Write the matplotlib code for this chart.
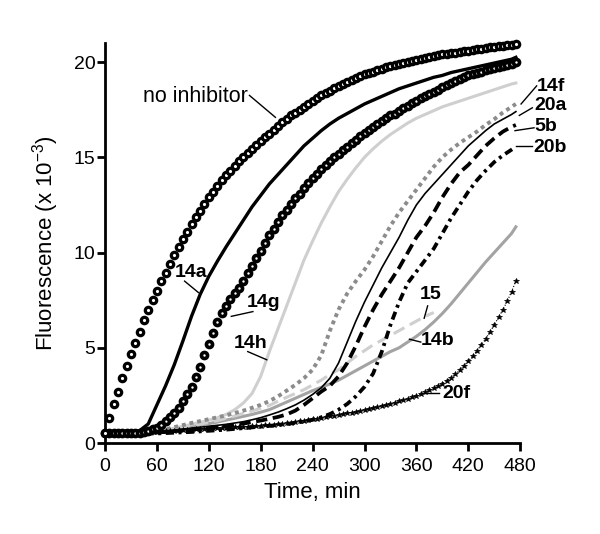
import numpy as np
import matplotlib.pyplot as plt

plt.rcParams['font.family'] = ['Liberation Sans', 'DejaVu Sans']
plt.rcParams['mathtext.fontset'] = 'custom'
plt.rcParams['mathtext.rm'] = 'Liberation Sans'
plt.rcParams['mathtext.it'] = 'Liberation Sans:italic'
plt.rcParams['mathtext.bf'] = 'Liberation Sans:bold'

# time grids (min)
t_dense = np.arange(0, 480, 5)          # marker series, 0..475
t_line = np.r_[np.arange(0, 480, 10), 475]  # line series

no_inhib = [0.5, 1.3, 2.05, 2.7, 3.4, 4.05, 4.65, 5.25, 5.85, 6.45,
            7.0, 7.5, 8.0, 8.5, 8.95, 9.4, 9.85, 10.3, 10.7, 11.1,
            11.5, 11.85, 12.2, 12.55, 12.9, 13.2, 13.5, 13.8, 14.05, 14.3,
            14.55, 14.8, 15.0, 15.25, 15.45, 15.65, 15.85, 16.05, 16.25, 16.45,
            16.65, 16.85, 17.0, 17.2, 17.35, 17.5, 17.65, 17.8, 17.95, 18.1,
            18.25, 18.4, 18.5, 18.65, 18.75, 18.85, 18.95, 19.05, 19.15, 19.25,
            19.35, 19.45, 19.5, 19.6, 19.65, 19.75, 19.8, 19.85, 19.9, 19.95,
            20.0, 20.05, 20.1, 20.15, 20.2, 20.25, 20.3, 20.35, 20.4, 20.45,
            20.5, 20.5, 20.55, 20.6, 20.6, 20.65, 20.7, 20.7, 20.75, 20.8,
            20.8, 20.85, 20.85, 20.9, 20.9, 20.95]

s14g = [0.5, 0.5, 0.5, 0.5, 0.5, 0.5, 0.5, 0.52, 0.55, 0.6,
        0.65, 0.72, 0.8, 0.95, 1.15, 1.35, 1.55, 1.85, 2.2, 2.55,
        2.95, 3.45, 4.0, 4.6, 5.2, 5.8, 6.35, 6.8, 7.2, 7.55,
        7.85, 8.15, 8.5, 8.9, 9.3, 9.7, 10.1, 10.5, 10.9, 11.25,
        11.6, 11.95, 12.25, 12.55, 12.85, 13.1, 13.4, 13.65, 13.9, 14.15,
        14.4, 14.6, 14.8, 15.0, 15.2, 15.4, 15.55, 15.75, 15.9, 16.1,
        16.3, 16.45, 16.6, 16.75, 16.9, 17.05, 17.2, 17.3, 17.45, 17.6,
        17.7, 17.85, 17.95, 18.1, 18.2, 18.35, 18.45, 18.55, 18.7, 18.8,
        18.9, 19.0, 19.1, 19.2, 19.3, 19.35, 19.45, 19.5, 19.6, 19.65,
        19.7, 19.75, 19.8, 19.85, 19.9, 20.0]

s20f = [0.5, 0.5, 0.5, 0.5, 0.5, 0.52, 0.53, 0.55, 0.56, 0.57,
        0.58, 0.59, 0.6, 0.62, 0.63, 0.64, 0.65, 0.67, 0.68, 0.69,
        0.7, 0.72, 0.73, 0.75, 0.76, 0.77, 0.78, 0.8, 0.81, 0.82,
        0.83, 0.84, 0.85, 0.86, 0.87, 0.88, 0.9, 0.92, 0.94, 0.96,
        0.98, 1.0, 1.03, 1.06, 1.1, 1.13, 1.17, 1.2, 1.24, 1.28,
        1.32, 1.36, 1.4, 1.44, 1.48, 1.52, 1.56, 1.6, 1.64, 1.7,
        1.75, 1.8, 1.85, 1.9, 1.95, 2.0, 2.06, 2.12, 2.18, 2.25,
        2.32, 2.4, 2.48, 2.57, 2.66, 2.76, 2.87, 2.99, 3.12, 3.27,
        3.43, 3.62, 3.82, 4.05, 4.3, 4.56, 4.85, 5.15, 5.47, 5.82,
        6.2, 6.6, 7.0, 7.45, 7.95, 8.5]

s14a = [0.5, 0.5, 0.5, 0.55, 0.65, 1.0, 2.0, 3.0, 4.1, 5.35,
        6.65, 7.8, 8.75, 9.55, 10.3, 11.0, 11.7, 12.4, 13.0, 13.6,
        14.1, 14.6, 15.1, 15.6, 16.0, 16.4, 16.75, 17.05, 17.3, 17.55,
        17.8, 18.0, 18.2, 18.4, 18.6, 18.75, 18.9, 19.05, 19.2, 19.3,
        19.45, 19.55, 19.65, 19.75, 19.85, 19.95, 20.05, 20.15, 20.25]

s14h = [0.5, 0.5, 0.5, 0.5, 0.52, 0.55, 0.6, 0.68, 0.78, 0.88,
        0.98, 1.08, 1.2, 1.33, 1.5, 1.75, 2.1, 2.6, 3.5, 4.8,
        6.0, 7.2, 8.4, 9.6, 10.6, 11.55, 12.4, 13.2, 13.85, 14.45,
        15.0, 15.45, 15.85, 16.2, 16.5, 16.8, 17.05, 17.25, 17.45, 17.65,
        17.8, 17.95, 18.1, 18.25, 18.4, 18.55, 18.7, 18.85, 18.9]

s14f = [0.5, 0.5, 0.5, 0.5, 0.52, 0.56, 0.62, 0.72, 0.83, 0.94,
        1.05, 1.15, 1.25, 1.35, 1.45, 1.57, 1.7, 1.85, 2.0, 2.2,
        2.45, 2.75, 3.05, 3.4, 3.85, 4.6, 5.9, 7.0, 7.85, 8.5,
        9.1, 9.8, 10.6, 11.4, 12.1, 12.7, 13.3, 13.9, 14.5, 15.0,
        15.4, 15.75, 16.05, 16.35, 16.7, 17.0, 17.35, 17.65, 17.8]

s20a = [0.5, 0.5, 0.5, 0.5, 0.52, 0.55, 0.58, 0.63, 0.68, 0.73,
        0.78, 0.83, 0.88, 0.93, 0.98, 1.05, 1.12, 1.22, 1.33, 1.47,
        1.62, 1.8, 2.0, 2.25, 2.55, 2.9, 3.4, 4.2, 5.3, 6.4,
        7.4, 8.3, 9.2, 10.0, 10.8, 11.7, 12.5, 13.1, 13.6, 14.1,
        14.6, 15.1, 15.6, 16.0, 16.4, 16.75, 17.0, 17.25, 17.4]

s5b = [0.5, 0.5, 0.5, 0.5, 0.5, 0.52, 0.55, 0.58, 0.62, 0.66,
       0.7, 0.75, 0.8, 0.85, 0.9, 0.95, 1.02, 1.1, 1.18, 1.27,
       1.37, 1.5, 1.7, 2.0, 2.35, 2.7, 3.0, 3.5, 4.2, 5.1,
       6.1, 7.0, 7.8, 8.5, 9.2, 10.0, 10.8, 11.4, 12.1, 12.9,
       13.6, 14.2, 14.6, 15.1, 15.6, 16.0, 16.35, 16.6, 16.7]

s20b = [0.5, 0.5, 0.5, 0.5, 0.5, 0.5, 0.5, 0.52, 0.54, 0.56,
        0.58, 0.61, 0.64, 0.67, 0.7, 0.74, 0.78, 0.82, 0.86, 0.9,
        0.95, 1.0, 1.06, 1.13, 1.22, 1.35, 1.52, 1.75, 2.05, 2.45,
        2.95, 3.65, 4.8, 6.2, 7.4, 8.4, 9.0, 9.6, 10.2, 11.0,
        11.8, 12.5, 13.2, 13.8, 14.3, 14.75, 15.1, 15.4, 15.55]

s15 = [0.5, 0.5, 0.5, 0.5, 0.52, 0.56, 0.6, 0.67, 0.74, 0.82,
       0.9, 0.99, 1.08, 1.18, 1.3, 1.42, 1.55, 1.68, 1.82, 1.97,
       2.2, 2.4, 2.6, 2.8, 3.05, 3.3, 3.6, 3.85, 4.2, 4.55,
       4.85, 5.15, 5.4, 5.65, 5.9, 6.15, 6.4, 6.65, 6.85]

s14b = [0.5, 0.5, 0.5, 0.5, 0.52, 0.55, 0.6, 0.66, 0.72, 0.79,
        0.86, 0.94, 1.02, 1.1, 1.2, 1.3, 1.4, 1.5, 1.62, 1.75,
        1.95, 2.15, 2.35, 2.55, 2.75, 2.92, 3.1, 3.3, 3.55, 3.8,
        4.05, 4.3, 4.55, 4.8, 5.0, 5.3, 5.6, 5.95, 6.35, 6.8,
        7.3, 7.85, 8.4, 8.95, 9.5, 10.0, 10.5, 11.0, 11.35]

fig = plt.figure(figsize=(6, 5.34), dpi=100)
ax = fig.add_axes([0.175, 0.1704, 0.692, 0.749])

lightgray = '#cfcfcf'
midgray = '#a3a3a3'

ax.plot(t_line, s14b, color=midgray, lw=2.2, zorder=2)
ax.plot(t_line[:len(s15)], s15, color=lightgray, lw=2.2, ls=(0, (4, 2)), zorder=2)
ax.plot(t_line, s14h, color=lightgray, lw=2.2, zorder=2)
ax.plot(t_line, s14f, color='#8c8c8c', lw=2.8, ls=(0, (1, 1)), zorder=3)
ax.plot(t_line, s20a, color='black', lw=1.2, zorder=3)
ax.plot(t_line, s5b, color='black', lw=2.7, ls=(0, (3, 1.5)), zorder=3)
ax.plot(t_line, s20b, color='black', lw=2.7, ls=(0, (2.2, 1.2, 0.8, 1.2)), zorder=3)
ax.plot(t_dense, s20f, color='black', lw=0.8, ls=':', marker='*', ms=3.8,
        mew=0.5, zorder=3, clip_on=False)
ax.plot(t_line, s14a, color='black', lw=2.4, zorder=4)
ax.plot(t_dense, s14g, color='black', lw=0, marker='o', ms=4.4, mew=2.6,
        mfc='white', mec='black', zorder=5, clip_on=False)
ax.plot(t_dense, no_inhib, color='black', lw=0, marker='o', ms=4.6, mew=2.3,
        mfc='white', mec='black', zorder=5, clip_on=False)

# curve labels: (text, text pos, line start, line end, bold)
labels = [
    ('no inhibitor', (104, 18.2), (167, 18.25), (197, 17.1), False),
    ('14a', (99, 8.95), (92, 8.5), (108, 7.9), True),
    ('14g', (183, 7.4), (171, 6.9), (146, 6.65), True),
    ('14h', (168, 5.25), (165, 4.8), (187, 4.37), True),
    ('14f', (516, 18.7), (499, 18.75), (481, 17.8), True),
    ('20a', (515, 17.7), (494, 17.6), (479, 17.2), True),
    ('5b', (510, 16.6), (496, 16.55), (474, 16.4), True),
    ('20b', (515, 15.5), (494, 15.6), (475, 15.6), True),
    ('15', (377, 7.8), (373, 7.2), (369, 6.55), True),
    ('14b', (385, 5.4), (365, 5.3), (352, 5.45), True),
    ('20f', (406, 2.6), (386, 2.6), (369, 2.6), True),
]
for txt, pos, p0, p1, bold in labels:
    ax.text(pos[0], pos[1], txt, ha='center', va='center',
            fontsize=14 if bold else 15.5,
            fontweight='bold' if bold else 'normal', clip_on=False, zorder=6)
    ax.plot([p0[0], p1[0]], [p0[1], p1[1]], color='black', lw=1.0,
            clip_on=False, zorder=6)

ax.set_xlim(0, 480)
ax.set_ylim(0, 21.0)
ax.set_xticks(np.arange(0, 481, 60))
ax.set_yticks([0, 5, 10, 15, 20])
ax.spines['top'].set_visible(False)
ax.spines['right'].set_visible(False)
ax.spines['left'].set_linewidth(2)
ax.spines['bottom'].set_linewidth(2)
ax.tick_params(width=2, length=6, labelsize=14)
ax.tick_params(axis='y', pad=1)
ax.tick_params(axis='x', pad=5)
ax.set_xlabel('Time, min', fontsize=16, labelpad=5)
ax.set_ylabel('Fluorescence (x 10$^{-3}$)', fontsize=16, labelpad=9)

fig.savefig('out.png', dpi=100)
